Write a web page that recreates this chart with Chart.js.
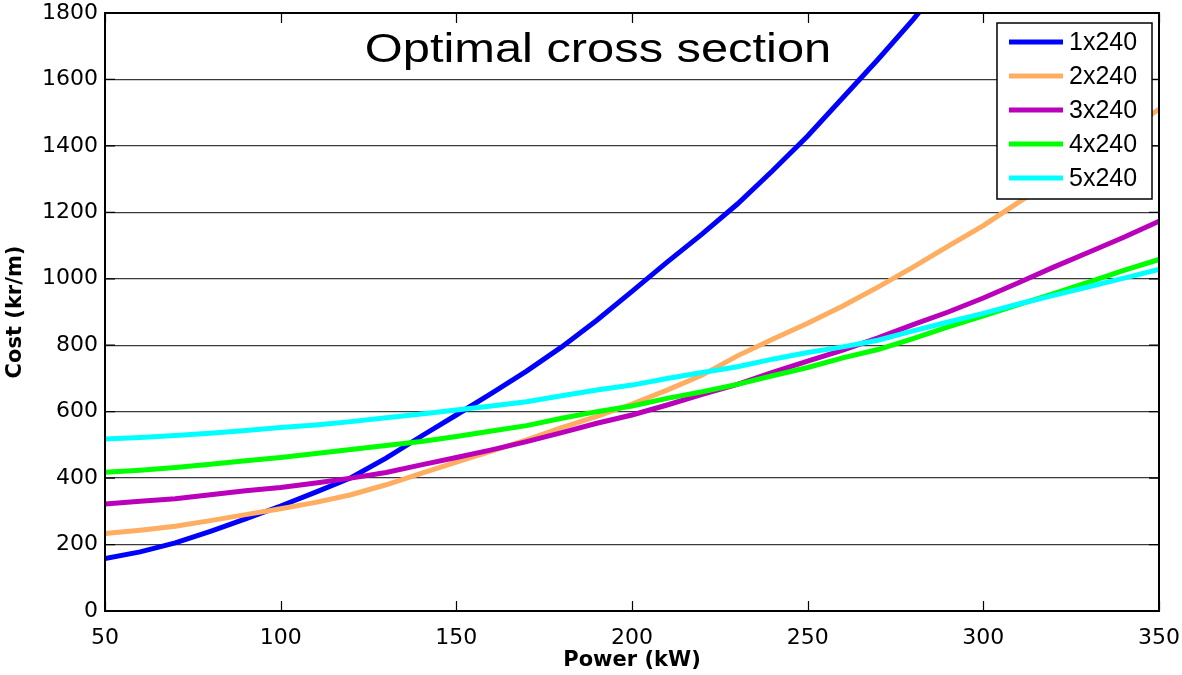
<!DOCTYPE html>
<html>
<head>
<meta charset="utf-8">
<script src="https://cdn.jsdelivr.net/npm/chart.js@4.4.1/dist/chart.umd.min.js"></script>
<style>
  html, body { margin: 0; padding: 0; background: #fff; }
  #wrap { width: 1182px; height: 675px; position: relative; }
</style>
</head>
<body>
<div id="wrap"><canvas id="myChart"></canvas></div>
<script>
// power in kW (x axis)
const powerKW = [50, 60, 70, 80, 90, 100, 110, 120, 130, 140, 150, 160, 170, 180, 190, 200,
                 210, 220, 230, 240, 250, 260, 270, 280, 290, 300, 310, 320, 330, 340, 350];

// cost in kr/m for each cable configuration
const cost1x240 = [158, 178, 205, 240, 277, 316, 358, 401, 460, 526, 590, 655, 722, 795, 875, 962,
                   1050, 1135, 1225, 1325, 1430, 1545, 1660, 1780, 1910, null, null, null, null, null, null];
const cost2x240 = [233, 243, 255, 272, 290, 308, 327, 350, 380, 414, 448, 481, 515, 552, 586, 623,
                   665, 710, 768, 818, 866, 918, 975, 1035, 1098, 1160, 1230, 1300, 1370, 1440, 1510];
const cost3x240 = [322, 330, 338, 350, 362, 372, 385, 400, 417, 440, 462, 485, 510, 537, 565, 590,
                   620, 652, 682, 718, 752, 785, 822, 862, 900, 942, 988, 1035, 1080, 1125, 1173];
const cost4x240 = [418, 424, 432, 442, 452, 462, 474, 486, 498, 510, 525, 542, 558, 580, 600, 617,
                   640, 660, 682, 708, 733, 762, 787, 820, 855, 888, 922, 955, 990, 1025, 1058];
const cost5x240 = [518, 522, 528, 535, 543, 552, 560, 570, 582, 593, 605, 617, 630, 648, 665, 680,
                   700, 718, 735, 758, 778, 795, 815, 843, 870, 896, 924, 950, 976, 1002, 1028];

const seriesNames = ["1x240", "2x240", "3x240", "4x240", "5x240"];
const seriesValues = [cost1x240, cost2x240, cost3x240, cost4x240, cost5x240];
const lineColors = ["#0000ff", "#ffad60", "#bb00bb", "#00ff00", "#00ffff"];

const xTicks = [50, 100, 150, 200, 250, 300, 350];
const yTicks = [0, 200, 400, 600, 800, 1000, 1200, 1400, 1600, 1800];

const datasets = seriesNames.map((name, i) => ({
    label: name,
    data: powerKW.map((p, j) => ({ x: p, y: seriesValues[i][j] })),
    borderColor: lineColors[i],
    backgroundColor: lineColors[i],
    borderWidth: 5,
    pointRadius: 0,
    tension: 0,
    // later series on top, like the original
    order: seriesNames.length - i
}));

// frame, inward ticks, title and legend drawn inside the plot
const overlay = {
    id: "overlay",
    afterDatasetsDraw(chart) {
        const ctx = chart.ctx;
        const a = chart.chartArea;
        const xs = chart.scales.x, ys = chart.scales.y;
        ctx.save();

        // inward tick marks
        ctx.strokeStyle = "#000";
        ctx.lineWidth = 1.2;
        ctx.beginPath();
        xTicks.forEach(v => {
            const px = Math.round(xs.getPixelForValue(v)) + 0.5;
            ctx.moveTo(px, a.bottom); ctx.lineTo(px, a.bottom - 10);
            ctx.moveTo(px, a.top); ctx.lineTo(px, a.top + 10);
        });
        yTicks.forEach(v => {
            const py = ys.getPixelForValue(v);
            ctx.moveTo(a.left, py); ctx.lineTo(a.left + 10, py);
            ctx.moveTo(a.right, py); ctx.lineTo(a.right - 10, py);
        });
        ctx.stroke();

        // frame
        ctx.lineWidth = 2;
        ctx.strokeRect(a.left, a.top, a.right - a.left, a.bottom - a.top);

        // title, slightly stretched like the original
        ctx.fillStyle = "#000";
        ctx.font = "41px 'Liberation Sans', Arial, sans-serif";
        ctx.textAlign = "center";
        ctx.textBaseline = "alphabetic";
        ctx.translate(598, 62);
        ctx.scale(1.19, 1);
        ctx.fillText("Optimal cross section", 0, 0);
        ctx.setTransform(1, 0, 0, 1, 0, 0);

        // legend box
        const bx = 997, by = 23, bw = 155, bh = 176;
        ctx.fillStyle = "#fff";
        ctx.fillRect(bx, by, bw, bh);
        ctx.lineWidth = 1.5;
        ctx.strokeStyle = "#000";
        ctx.strokeRect(bx, by, bw, bh);
        ctx.font = "25px 'Liberation Sans', Arial, sans-serif";
        ctx.textAlign = "left";
        ctx.textBaseline = "middle";
        chart.data.datasets.forEach((ds, i) => {
            const cy = 42 + i * 34;
            ctx.strokeStyle = ds.borderColor;
            ctx.lineWidth = 5;
            ctx.beginPath();
            ctx.moveTo(1009, cy); ctx.lineTo(1063, cy);
            ctx.stroke();
            ctx.fillStyle = "#000";
            ctx.fillText(ds.label, 1069, cy + 1);
        });
        ctx.restore();
    }
};

new Chart("myChart", {
    type: "line",
    data: { datasets: datasets },
    options: {
        responsive: true,
        maintainAspectRatio: false,
        animation: false,
        devicePixelRatio: 1,
        layout: { padding: { left: 0, right: 23, top: 13, bottom: 0 } },
        plugins: {
            legend: { display: false },
            title: { display: false },
            tooltip: { enabled: false }
        },
        scales: {
            x: {
                type: "linear",
                min: 50,
                max: 350,
                afterBuildTicks: s => { s.ticks = xTicks.map(v => ({ value: v })); },
                afterFit: s => { s.height = 64; s.paddingLeft = 0; s.paddingRight = 0; },
                grid: { display: false },
                border: { display: false },
                ticks: {
                    color: "#000",
                    padding: 6,
                    maxRotation: 0,
                    callback: v => String(v),
                    font: { family: "'DejaVu Sans', sans-serif", size: 22 }
                },
                title: {
                    display: true,
                    text: "Power (kW)",
                    color: "#000",
                    padding: { top: 0, bottom: 2 },
                    font: { family: "'DejaVu Sans', sans-serif", size: 21, weight: "bold" }
                }
            },
            y: {
                min: 0,
                max: 1800,
                afterBuildTicks: s => { s.ticks = yTicks.map(v => ({ value: v })); },
                afterFit: s => { s.width = 105; s.paddingTop = 0; s.paddingBottom = 0; },
                grid: { color: "#3a3a3a", lineWidth: 1.3, drawTicks: false },
                border: { display: false },
                ticks: {
                    color: "#000",
                    padding: 7,
                    callback: v => String(v),
                    font: { family: "'DejaVu Sans', sans-serif", size: 22 }
                },
                title: {
                    display: true,
                    text: "Cost (kr/m)",
                    color: "#000",
                    padding: { top: 3, bottom: 0 },
                    font: { family: "'DejaVu Sans', sans-serif", size: 21, weight: "bold" }
                }
            }
        }
    },
    plugins: [overlay]
});
</script>
</body>
</html>
